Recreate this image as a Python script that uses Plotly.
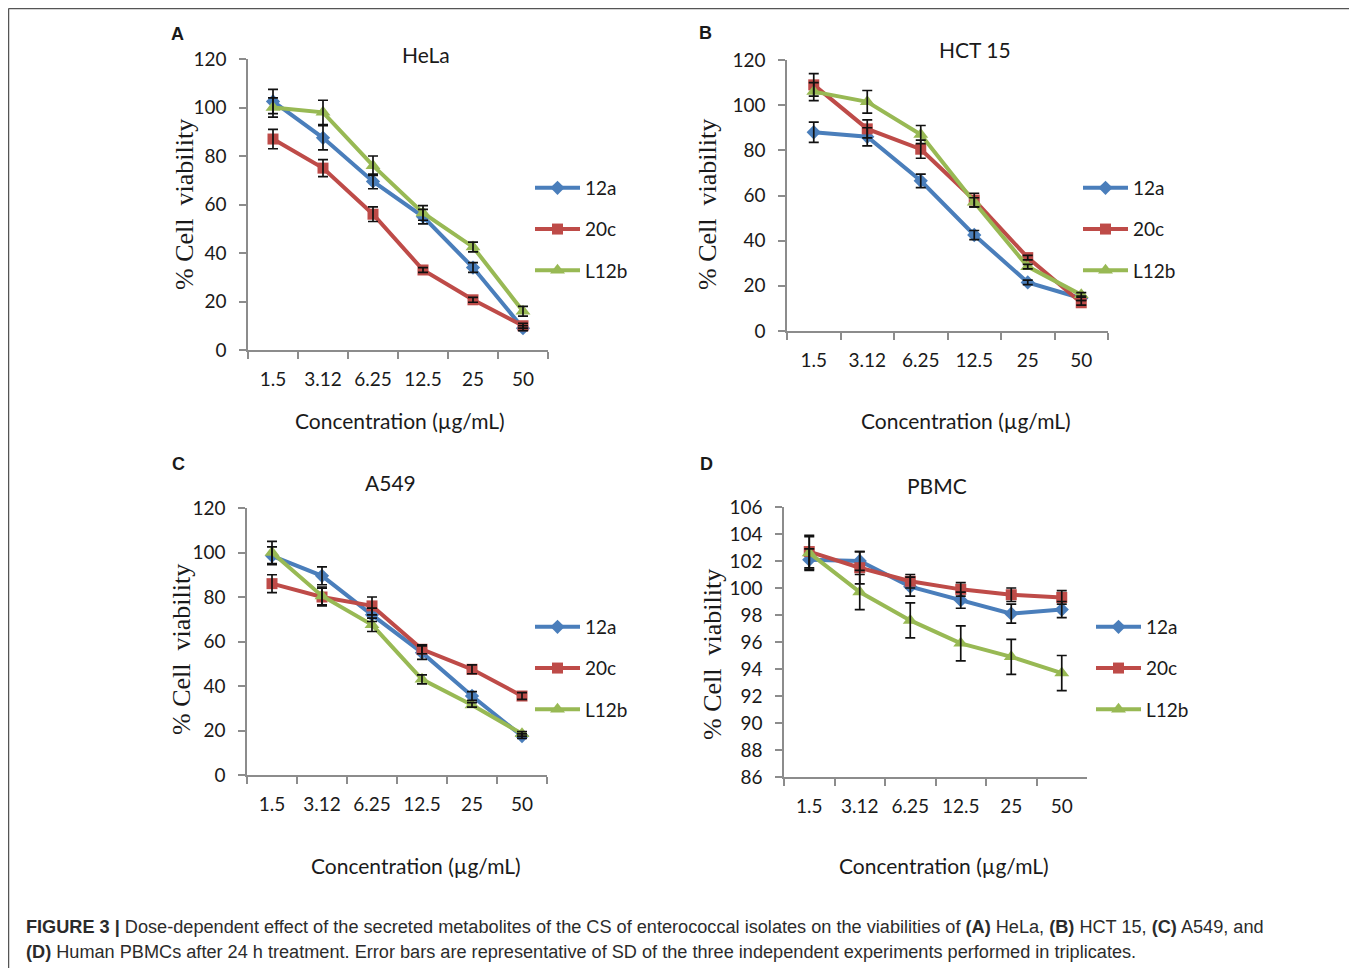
import plotly.graph_objects as go

W, H = 1357, 968
# the page body adds an 8px margin; design coordinates below are page pixels
OX, OY = 8, 8

concentrations = ["1.5", "3.12", "6.25", "12.5", "25", "50"]
series_names = ["12a", "20c", "L12b"]

# HeLa
hela_12a = [102.5, 87.5, 69.5, 55.0, 34.0, 9.0]
hela_12a_sd = [5.0, 5.0, 3.0, 3.0, 2.0, 1.0]
hela_20c = [87.0, 75.0, 56.0, 33.0, 20.7, 10.0]
hela_20c_sd = [4.0, 3.5, 3.0, 1.0, 1.0, 1.0]
hela_l12b = [100.0, 98.0, 76.0, 56.5, 42.5, 16.0]
hela_l12b_sd = [4.0, 5.0, 4.0, 3.0, 2.0, 2.0]

# HCT 15
hct_12a = [88.0, 86.0, 66.5, 42.5, 21.5, 14.5]
hct_12a_sd = [4.5, 4.0, 3.0, 2.0, 1.0, 1.0]
hct_20c = [109.0, 89.5, 80.5, 58.0, 32.5, 12.5]
hct_20c_sd = [5.0, 4.0, 4.0, 3.0, 1.0, 1.0]
hct_l12b = [106.0, 101.5, 87.0, 57.0, 28.5, 16.0]
hct_l12b_sd = [4.0, 5.0, 4.0, 2.0, 1.0, 1.0]

# A549
a549_12a = [98.5, 89.5, 72.0, 55.0, 35.5, 17.5]
a549_12a_sd = [4.0, 4.0, 3.0, 3.0, 2.0, 1.0]
a549_20c = [86.0, 80.0, 76.0, 56.5, 47.5, 35.5]
a549_20c_sd = [4.0, 4.0, 4.0, 2.0, 2.0, 1.5]
a549_l12b = [100.0, 80.5, 67.5, 43.0, 31.5, 18.5]
a549_l12b_sd = [5.0, 4.0, 3.0, 2.0, 1.0, 1.0]

# PBMC
pbmc_12a = [102.1, 102.0, 100.1, 99.1, 98.1, 98.4]
pbmc_12a_sd = [0.8, 0.7, 0.7, 0.6, 0.7, 0.6]
pbmc_20c = [102.7, 101.5, 100.5, 99.9, 99.5, 99.3]
pbmc_20c_sd = [1.2, 1.2, 0.5, 0.5, 0.5, 0.5]
pbmc_l12b = [102.6, 99.7, 97.6, 95.9, 94.9, 93.7]
pbmc_l12b_sd = [1.2, 1.3, 1.3, 1.3, 1.3, 1.3]

colors = ["#4A7EBB", "#BE4B48", "#98B954"]
symbols = ["diamond", "square", "triangle-up"]
msizes = [11, 11, 13]

panels = [
    dict(title="HeLa", letter="A", values=[hela_12a, hela_20c, hela_l12b],
         sds=[hela_12a_sd, hela_20c_sd, hela_l12b_sd],
         px=(248, 548), py=(59, 350), yr=(0, 120), dt=20,
         title_xy=(426, 55), ytitle_xy=(185, 205), xtitle_xy=(400, 420),
         letter_xy=(177, 34), legend_xy=(530, 169)),
    dict(title="HCT 15", letter="B", values=[hct_12a, hct_20c, hct_l12b],
         sds=[hct_12a_sd, hct_20c_sd, hct_l12b_sd],
         px=(787, 1108), py=(60, 331), yr=(0, 120), dt=20,
         title_xy=(975, 49), ytitle_xy=(708, 205), xtitle_xy=(966, 420),
         letter_xy=(705, 33), legend_xy=(1078, 169)),
    dict(title="A549", letter="C", values=[a549_12a, a549_20c, a549_l12b],
         sds=[a549_12a_sd, a549_20c_sd, a549_l12b_sd],
         px=(247, 547), py=(508, 775), yr=(0, 120), dt=20,
         title_xy=(390, 482), ytitle_xy=(181, 650), xtitle_xy=(416, 865),
         letter_xy=(178, 464), legend_xy=(530, 608)),
    dict(title="PBMC", letter="D", values=[pbmc_12a, pbmc_20c, pbmc_l12b],
         sds=[pbmc_12a_sd, pbmc_20c_sd, pbmc_l12b_sd],
         px=(784, 1087), py=(507, 777), yr=(86, 106), dt=2,
         title_xy=(937, 485), ytitle_xy=(712, 655), xtitle_xy=(944, 865),
         letter_xy=(706, 464), legend_xy=(1091, 608)),
]


def fx(x):
    return (x - OX) / W


def fy(y):
    return 1 - (y - OY) / H


TICKFONT = dict(family="Lato, Carlito, Open Sans, sans-serif", size=19, color="#1a1a1a")
AXCOL = "#8C8C8C"

fig = go.Figure()
annotations = []
layout_extra = {}

for i, p in enumerate(panels):
    n = i + 1
    xa = "x" if n == 1 else f"x{n}"
    ya = "y" if n == 1 else f"y{n}"
    lg = "legend" if n == 1 else f"legend{n}"
    for k in range(3):
        fig.add_trace(go.Scatter(
            x=concentrations, y=p["values"][k], xaxis=xa, yaxis=ya,
            mode="lines+markers", name=series_names[k],
            line=dict(color=colors[k], width=4),
            marker=dict(symbol=symbols[k], size=msizes[k], color=colors[k]),
            legend=lg, legendgroup=f"{lg}_{k}", showlegend=True,
            hoverinfo="skip"))
    for k in range(3):
        fig.add_trace(go.Scatter(
            x=concentrations, y=p["values"][k], xaxis=xa, yaxis=ya,
            mode="markers", marker=dict(size=1, opacity=0),
            error_y=dict(type="data", array=p["sds"][k], visible=True,
                         color="#111111", thickness=1.7, width=5),
            showlegend=False, hoverinfo="skip"))

    xdom = [fx(p["px"][0]), fx(p["px"][1])]
    ydom = [fy(p["py"][1]), fy(p["py"][0])]
    xkey = "xaxis" if n == 1 else f"xaxis{n}"
    ykey = "yaxis" if n == 1 else f"yaxis{n}"
    layout_extra[xkey] = dict(
        domain=xdom, anchor=ya, type="category", range=[-0.5, 5.5],
        showline=True, linecolor=AXCOL, linewidth=1.5, showgrid=False,
        zeroline=False, ticks="outside", tickson="boundaries", ticklen=7,
        tickcolor=AXCOL, tickwidth=1.5, tickfont=TICKFONT,
        ticklabelstandoff=11, fixedrange=True, automargin=False)
    layout_extra[ykey] = dict(
        domain=ydom, anchor=xa, range=list(p["yr"]), dtick=p["dt"],
        tick0=p["yr"][0], showline=True, linecolor=AXCOL, linewidth=1.5,
        showgrid=False, zeroline=False, ticks="outside", ticklen=7,
        tickcolor=AXCOL, tickwidth=1.5, tickfont=TICKFONT,
        ticklabelstandoff=9, fixedrange=True, automargin=False)
    layout_extra[lg] = dict(
        x=fx(p["legend_xy"][0]), y=fy(p["legend_xy"][1]),
        xanchor="left", yanchor="top", bgcolor="rgba(0,0,0,0)",
        font=dict(family="Lato, Carlito, Open Sans, sans-serif", size=19, color="#1a1a1a"),
        tracegroupgap=13.5, itemwidth=45)

    def A(text, xy, size, family, angle=0):
        annotations.append(dict(
            text=text, x=fx(xy[0]), y=fy(xy[1]), xref="paper", yref="paper",
            showarrow=False, xanchor="center", yanchor="middle", textangle=angle,
            font=dict(size=size, family=family, color="#1a1a1a")))

    A(p["title"], p["title_xy"], 21, "Lato, Carlito, Open Sans, sans-serif")
    A("% Cell  viability", p["ytitle_xy"], 26, "Liberation Serif, Times New Roman, serif", angle=-90)
    A("Concentration (µg/mL)", p["xtitle_xy"], 21, "Lato, Carlito, Open Sans, sans-serif")
    A("<b>" + p["letter"] + "</b>", p["letter_xy"], 18, "Liberation Sans, Arial, sans-serif")

caption1 = ("<b>FIGURE 3 |</b> Dose-dependent effect of the secreted metabolites of the CS of "
            "enterococcal isolates on the viabilities of <b>(A)</b> HeLa, <b>(B)</b> HCT 15, "
            "<b>(C)</b> A549, and")
caption2 = ("<b>(D)</b> Human PBMCs after 24 h treatment. Error bars are representative of SD "
            "of the three independent experiments performed in triplicates.")
for txt, yy in [(caption1, 927), (caption2, 952)]:
    annotations.append(dict(
        text=txt, x=fx(24), y=fy(yy), xref="paper", yref="paper",
        showarrow=False, xanchor="left", yanchor="middle",
        font=dict(size=18.15, family="Liberation Sans, Arial, sans-serif", color="#2b2b2b")))

shapes = [
    dict(type="line", xref="paper", yref="paper", x0=fx(8.5), x1=fx(8.5), y0=0, y1=fy(8.5),
         line=dict(color="#555555", width=1.5)),
    dict(type="line", xref="paper", yref="paper", x0=fx(8.5), x1=fx(1355), y0=fy(8.5), y1=fy(8.5),
         line=dict(color="#555555", width=1.5)),
    dict(type="line", xref="paper", yref="paper", x0=fx(1355), x1=fx(1355), y0=0, y1=fy(8.5),
         line=dict(color="#777777", width=1.5)),
]

fig.update_layout(
    width=W, height=H, margin=dict(l=0, r=0, t=0, b=0, autoexpand=False),
    paper_bgcolor="white", plot_bgcolor="white",
    annotations=annotations, shapes=shapes, **layout_extra)

fig.write_html("out.html")
